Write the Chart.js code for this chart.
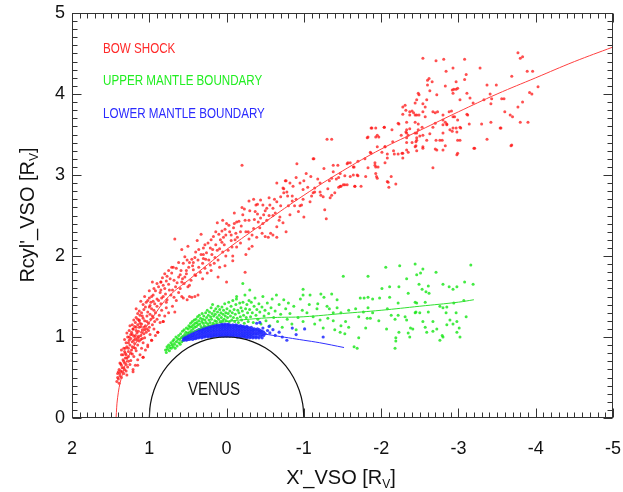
<!DOCTYPE html>
<html><head><meta charset="utf-8">
<script src="https://cdn.jsdelivr.net/npm/chart.js@4.4.1/dist/chart.umd.min.js"></script>
<style>html,body{margin:0;padding:0;background:#fff;overflow:hidden}</style>
</head><body>
<canvas id="c" width="623" height="492"></canvas>
<script>
// ---- tick labels / categories ----
const xTickValues = [2, 1, 0, -1, -2, -3, -4, -5];
const yTickValues = [0, 1, 2, 3, 4, 5];
const seriesNames = ['BOW SHOCK', 'UPPER MANTLE BOUNDARY', 'LOWER MANTLE BOUNDARY'];
const planetName = 'VENUS';

// ---- bow shock crossings [X', Rcyl'] ----
const bowShock = [
[1.42,0.45],[1.40,0.48],[1.38,0.52],[1.41,0.55],[1.36,0.5],[1.33,0.55],[1.39,0.6],[1.35,0.62],[1.30,0.58],[1.28,0.63],
[1.37,0.67],[1.32,0.68],[1.25,0.66],[1.21,0.6],[1.18,0.65],[1.34,0.72],[1.29,0.74],[1.24,0.71],[1.20,0.76],[1.15,0.72],
[1.36,0.78],[1.31,0.8],[1.27,0.82],[1.22,0.79],[1.17,0.83],[1.12,0.78],[1.08,0.75],[1.33,0.86],[1.29,0.88],[1.25,0.9],
[1.20,0.87],[1.15,0.9],[1.10,0.86],[1.05,0.84],[1.30,0.93],[1.26,0.96],[1.22,0.94],[1.18,0.98],[1.13,0.95],[1.08,0.93],
[1.02,0.9],[1.28,1.0],[1.24,1.03],[1.20,1.01],[1.16,1.05],[1.11,1.02],[1.06,0.99],[0.97,0.96],[1.26,1.08],[1.21,1.1],
[1.17,1.08],[1.13,1.12],[1.09,1.09],[1.04,1.06],[0.99,1.03],[0.92,1.02],[1.22,1.15],[1.18,1.18],[1.13,1.2],[1.10,1.16],
[1.05,1.14],[1.00,1.12],[0.94,1.1],[0.89,1.06],[1.17,1.24],[1.12,1.27],[1.08,1.23],[1.03,1.26],[0.98,1.22],[0.93,1.19],
[0.86,1.18],[0.82,1.19],[1.13,1.32],[1.07,1.34],[1.02,1.31],[0.97,1.35],[0.92,1.3],[0.87,1.27],[0.80,1.26],[0.75,1.3],
[1.08,1.4],[1.04,1.43],[0.99,1.39],[0.95,1.44],[0.90,1.38],[0.85,1.41],[0.78,1.36],[0.70,1.38],[1.00,1.48],[0.95,1.52],
[0.90,1.47],[0.86,1.55],[0.82,1.5],[0.77,1.46],[0.72,1.52],[0.65,1.45],[0.58,1.5],[0.56,1.48],[0.51,1.46],[0.48,1.5],
[0.45,1.49],[0.41,1.5],[0.37,1.52],[0.94,1.6],[0.88,1.62],[0.85,1.68],[0.80,1.6],[0.75,1.65],[0.70,1.58],[0.66,1.62],
[0.60,1.6],[0.55,1.66],[0.50,1.62],[0.83,1.73],[0.77,1.75],[0.71,1.79],[0.68,1.7],[0.62,1.74],[0.57,1.72],[0.52,1.78],
[0.46,1.7],[0.40,1.76],[1.21,1.1],[1.26,1.0],[1.31,0.86],[1.34,0.78],[1.38,0.68],[1.40,0.57],[1.13,1.21],[1.09,1.26],
[0.98,1.43],[1.0,1.37],[0.85,1.68],[0.85,1.58],[0.71,1.86],[0.67,1.31],[0.82,1.19],[0.89,1.06],[0.97,0.96],[1.02,0.88],
[1.08,0.75],[1.15,0.65],[1.21,0.57],[1.29,0.53],
[1.39,0.43],[1.37,0.58],[1.33,0.62],[1.27,0.7],[1.31,0.74],[1.23,0.84],[1.19,0.92],[1.27,0.93],[1.16,0.96],[1.09,0.98],
[1.23,1.06],[1.14,1.01],[1.07,1.04],[1.01,1.08],[1.19,1.13],[1.15,1.15],[1.07,1.12],[0.96,1.15],[1.12,1.17],[1.03,1.19],
[0.95,1.24],[0.90,1.22],[1.15,1.29],[1.10,1.3],[1.05,1.37],[0.99,1.28],[0.94,1.33],[0.84,1.33],[0.78,1.43],[0.88,1.45],
[0.93,1.41],[1.02,1.45],[0.97,1.5],[0.92,1.57],[0.84,1.48],[0.79,1.53],[0.74,1.58],[0.68,1.49],[0.62,1.55],[0.9,1.66],
[0.82,1.64],[0.78,1.69],[0.73,1.72],[0.64,1.67],[0.59,1.82],[0.65,1.85],[0.75,1.82],[0.8,1.78],[0.48,1.92],[0.44,1.88],
[0.36,1.86],[0.3,1.97],[0.26,2.04],[0.21,2.1],[0.14,2.14],[0.08,2.2],[0.17,2.24],[0.02,2.33],[-0.03,2.38],[-0.09,2.35],
[-0.19,2.37],[-0.23,2.58],[-0.37,2.55],[-0.44,2.69],[-0.55,2.72],[-0.7,2.62],[-0.85,2.74],[-0.9,2.97],[-1.0,2.93],[-1.18,2.95],
[-1.26,3.08],[-1.31,2.83],[-1.4,2.78],[-0.33,2.12],[-0.39,2.23],[0.02,1.88],[0.2,1.82],[1.36,0.84],[1.32,0.97],[1.29,1.05],
[1.25,1.14],[1.20,1.21],[1.17,1.35],[1.11,1.44],[1.06,1.5],[1.0,1.57],[0.96,1.68],[0.31,1.72],[0.58,2.08],[0.5,2.12],
[0.33,2.27],[0.28,2.14],
[1.41,0.5],[1.38,0.55],[1.35,0.57],[1.32,0.6],[1.36,0.65],[1.3,0.66],[1.33,0.7],[1.27,0.76],[1.3,0.78],[1.24,0.8],
[1.32,0.82],[1.27,0.86],[1.22,0.88],[1.18,0.86],[1.24,0.98],[1.2,0.96],[1.15,0.99],[1.11,0.97],[1.18,1.02],[1.22,1.03],
[1.14,1.07],[1.1,1.06],[1.06,1.09],[1.17,1.12],[1.11,1.13],[1.03,1.1],[1.15,1.22],[1.06,1.2],[1.01,1.17],[0.96,1.26],
[0.45,1.96],[0.36,2.08],[0.3,2.1],[0.24,2.16],[0.2,2.2],[0.1,2.27],[0.04,2.23],[0.0,2.4],[-0.04,2.3],[-0.1,2.4],
[-0.11,2.2],[-0.18,2.3],[-0.2,2.6],[-0.33,2.26],[-0.36,2.45],[-0.38,2.63],[-0.47,2.4],[-0.5,2.24],[-0.5,2.56],[-0.6,2.26],
[-0.6,2.5],[-0.69,2.48],[-0.7,2.73],[-0.8,2.62],[-0.82,2.9],[-0.9,2.7],[-0.95,2.62],[0.3,2.02],[0.43,1.92],[0.52,1.82],
[0.62,1.92],[0.58,1.68],[0.48,1.64],[0.14,2.3],[0.05,2.44],[-0.25,2.3],[-0.4,2.52],[-0.55,2.5],[-0.62,2.7],
[-0.2,3.12],[0.67,2.21],[0.69,1.86],[-0.65,2.9],[-0.76,2.93],[-0.74,2.83],[-0.78,2.79],[-0.29,2.68],[-0.35,2.7],[-0.4,2.64],
[-0.47,2.63],[-0.56,2.63],[-0.65,2.67],[-0.6,2.59],[-0.52,2.59],[-0.63,2.53],[-0.3,2.56],[-0.21,2.51],[-0.1,2.53],[-0.48,2.51],
[-0.52,2.44],[-0.68,2.44],[-0.73,2.41],[-0.82,2.51],[-0.77,2.3],[-0.65,2.36],[-0.57,2.28],[-0.65,2.23],[-0.54,2.23],[-0.46,2.28],
[-0.43,2.35],[-0.41,2.42],[-0.29,2.44],[-0.24,2.44],[-0.16,2.43],[-0.13,2.42],[-0.28,2.3],[-0.29,2.21],[-0.12,2.28],[-0.06,2.26],
[-0.14,2.23],[0.12,2.41],[0.06,2.31],[0.01,2.26],[-0.06,2.19],[-0.07,2.11],[-0.13,2.11],[0.06,2.17],[0.03,2.14],[-0.02,2.07],
[-0.08,2.0],[0.01,2.0],[0.09,2.09],[0.12,2.07],[0.19,2.02],[0.15,1.98],[0.23,1.95],[0.31,1.91],[0.28,1.85],[0.21,1.89],
[0.16,1.91],[0.09,1.86],[0.11,1.95],[0.37,1.95],[0.4,2.05],[0.38,2.19],[0.41,1.98],[0.43,1.83],[0.34,1.8],[0.25,1.79],
[0.49,1.86],[0.54,1.99],[0.51,1.95],[0.56,1.91],[0.6,1.77],[0.54,1.74],[0.41,1.77],[0.11,1.74],[-0.08,1.94],[-0.24,1.8],
[-0.29,2.09],[-0.25,2.02],[0.0,1.68],[0.33,2.02],[0.27,1.96],[0.18,2.08],[0.05,2.05],[-0.18,2.16],[-0.35,2.34],[-0.44,2.47],
[-0.91,3.14],[-1.12,3.2],[-1.3,3.44],[-1.36,3.44],[-1.03,3.02],[-1.09,2.98],[-0.77,2.93],[-0.73,2.84],[-0.74,2.78],[-0.79,2.74],
[-0.86,2.86],[-0.95,2.9],[-0.99,2.82],[-1.05,2.85],[-1.14,2.84],[-1.21,2.79],[-1.1,2.74],[-1.25,2.73],[-1.36,2.75],[-1.34,2.72],
[-1.38,3.04],[-1.36,2.96],[-1.47,3.02],[-1.45,2.97],[-1.53,2.99],[-1.6,3.15],[-1.56,3.14],[-1.64,3.0],[-1.7,2.99],[-1.48,2.86],
[-1.56,2.88],[-1.66,2.86],[-1.74,2.86],[-1.8,2.98],[-1.94,2.98],[-1.96,3.1],[-1.92,3.12],[-1.86,3.28],[-1.95,3.35],[-1.93,3.47],
[-1.95,3.49],[-2.05,3.35],[-1.88,3.58],[-2.04,3.59],[-1.82,3.46],[-2.01,3.28],[-2.08,3.21],[-2.05,3.15],[-2.13,2.98],[-2.08,2.92],
[-2.16,3.3],[-2.22,3.26],[-2.27,3.27],[-2.28,3.21],[-2.33,3.31],[-2.33,3.4],[-2.45,3.36],[-2.54,3.35],[-2.35,3.49],[-2.46,3.46],
[-2.54,3.49],[-2.33,3.56],[-2.22,3.64],[-2.33,3.65],[-2.37,3.74],[-2.42,3.77],[-2.46,3.74],[-2.54,3.78],[-2.28,3.84],[-2.44,3.89],
[-2.54,3.88],[-2.49,3.99],[-2.59,3.93],[-2.6,4.11],[-2.62,4.19],[-1.08,2.67],[-0.99,2.7],[-1.14,2.79],[-1.44,3.12],[-1.65,3.1],
[-1.53,2.88],[-1.45,2.85],[-1.27,2.57],[-1.29,2.46],[-1.21,2.9],[-1.13,3.2],[-1.22,2.75],[-1.12,2.78],[-0.97,2.63],[-1.42,2.95],
[-1.47,2.86],[-1.38,3.12],[-1.57,3.15],[-0.88,2.62],[-0.93,2.55],[-1.0,2.48],[-0.85,2.68],
[-2.54,4.44],[-2.71,4.41],[-2.81,4.43],[-3.08,4.43],[-2.84,4.28],[-2.93,4.32],[-3.28,4.32],[-2.6,4.17],[-2.66,4.15],[-2.83,4.1],
[-2.94,4.06],[-3.1,4.24],[-3.08,4.18],[-3.37,4.11],[-3.49,4.11],[-3.69,4.22],[-3.41,4.0],[-3.43,3.94],[-3.33,3.93],[-3.19,3.89],
[-3.59,3.94],[-3.42,3.88],[-3.6,3.78],[-3.67,3.74],[-3.42,3.65],[-3.3,3.63],[-3.55,3.58],[-3.77,3.84],[-3.8,3.65],[-3.37,3.44],
[-3.2,3.33],[-3.77,4.51],[-3.83,4.46],[-3.8,4.44],[-3.96,4.28],[-3.92,4.02],[-3.9,3.65],[-3.68,3.36],[-4.03,4.09],[-3.89,4.28],
[-3.95,4.0],[-3.83,3.9],[-3.56,3.94],[-3.15,3.95],[-3.11,4.01],[-3.02,3.93],[-2.97,4.06],[-2.92,4.05],[-2.93,4.01],[-2.99,4.07],
[-2.97,4.15],[-2.63,4.04],[-2.72,3.99],[-2.46,3.93],[-2.48,4.01],[-2.31,3.86],[-2.28,3.75],[-2.4,3.79],[-2.44,3.74],[-2.48,3.63],
[-2.48,3.56],[-2.57,3.72],[-2.67,3.78],[-2.73,3.78],[-2.8,3.68],[-2.88,3.78],[-2.85,3.62],[-2.93,3.72],[-2.99,3.68],[-3.02,3.59],
[-2.97,3.58],[-2.89,3.56],[-2.83,3.65],[-2.7,3.64],[-2.67,3.59],[-2.8,3.52],[-2.63,3.51],[-2.76,3.43],[-2.59,3.43],[-2.5,3.48],
[-2.46,3.43],[-2.33,3.52],[-2.44,3.35],[-2.28,3.27],[-2.54,3.33],[-2.72,3.31],[-2.83,3.36],[-2.99,3.43],[-2.99,3.27],[-3.21,3.33],
[-3.54,3.58],[-3.7,3.72],[-3.69,3.37],[-2.67,3.09],[-2.98,3.25],[-3.14,3.63],[-3.12,3.74],[-3.03,3.58],[-3.11,3.75],[-2.95,3.72],
[-2.91,3.79],[-2.7,3.77],[-2.8,3.74],[-2.85,3.63],[-2.8,3.62],[-2.93,3.58],[-2.98,3.53],[-2.92,3.54],[-2.79,3.43],[-2.8,3.31],
[-2.7,3.32],[-3.02,3.43],[-2.57,3.84],[-2.49,3.74],[-2.44,3.65],[-2.37,3.78],[-2.32,3.8],[-2.37,3.57],[-2.44,3.52],[-2.32,3.53],
[-2.4,3.4],[-2.46,3.3],[-2.23,3.63],[-2.26,3.49],[-2.14,3.56],[-2.04,3.59],[-2.15,3.41],[-2.05,3.35],[-2.08,3.26],[-2.17,3.26],
[-1.97,3.47],[-1.87,3.58],[-1.83,3.47],[-1.87,3.27],[-1.92,3.15],[-1.93,3.1],[-1.95,2.96],[-1.83,3.09],[-1.79,3.2],[-1.7,3.17],
[-1.69,3.0],[-1.66,2.86],[-1.64,3.1],[-1.6,2.98],[-1.51,2.88],[-1.33,2.93],[-2.09,2.91],[-2.1,2.85],[-2.19,2.89],[-1.93,3.02],
[-2.33,3.46],[-2.45,3.41],[-2.71,3.43],[-2.46,3.52],[-2.53,3.59],[-2.35,3.28],[-1.93,3.58]
];

// ---- upper mantle boundary crossings ----
const upperMantle = [
[0.79,0.84],[0.78,0.81],[0.77,0.88],[0.765,0.85],[0.75,0.9],[0.74,0.83],[0.735,0.87],[0.72,0.93],[0.715,0.86],[0.705,0.9],
[0.695,0.95],[0.69,0.88],[0.68,0.97],[0.672,0.91],[0.665,0.86],[0.655,1.0],[0.648,0.94],[0.64,0.89],[0.633,0.98],[0.62,1.02],
[0.615,0.93],[0.607,0.97],[0.6,0.91],[0.595,1.04],[0.588,0.99],[0.58,0.94],[0.571,1.07],[0.566,1.01],[0.558,0.96],[0.55,1.09],
[0.542,1.03],[0.535,0.98],[0.527,1.06],[0.52,1.11],[0.511,1.0],[0.505,1.05],[0.497,1.1],[0.489,1.14],[0.48,1.06],[0.472,1.12],
[0.466,1.17],[0.458,1.08],[0.45,1.13],[0.443,1.19],[0.434,1.1],[0.428,1.15],[0.419,1.21],[0.412,1.12],[0.405,1.17],[0.397,1.22],
[0.39,1.13],[0.384,1.18],[0.376,1.25],[0.368,1.15],[0.36,1.2],[0.353,1.27],[0.345,1.16],[0.337,1.23],[0.33,1.13],[0.322,1.19],
[0.316,1.29],[0.308,1.22],[0.302,1.17],[0.295,1.26],[0.287,1.14],[0.279,1.21],[0.271,1.3],[0.266,1.18],[0.258,1.24],[0.25,1.33],
[0.243,1.16],[0.236,1.27],[0.228,1.21],[0.221,1.31],[0.213,1.18],[0.206,1.25],[0.2,1.36],[0.195,1.22],[0.188,1.29],[0.181,1.4],
[0.174,1.17],[0.167,1.26],[0.16,1.32],[0.152,1.2],[0.146,1.28],[0.139,1.35],[0.131,1.19],[0.124,1.24],[0.117,1.31],[0.11,1.38],
[0.103,1.22],[0.096,1.27],[0.089,1.34],[0.082,1.19],[0.074,1.3],[0.067,1.24],[0.06,1.37],[0.052,1.2],[0.046,1.28],[0.039,1.33],
[0.031,1.22],[0.024,1.41],[0.017,1.26],[0.01,1.3],[0.003,1.2],[-0.005,1.35],[-0.013,1.24],[-0.02,1.29],[-0.028,1.43],[-0.036,1.19],
[-0.043,1.32],[-0.05,1.26],[-0.058,1.38],[-0.066,1.21],[-0.074,1.3],[-0.081,1.45],[-0.089,1.24],[-0.097,1.34],[-0.105,1.19],[-0.113,1.28],
[-0.12,1.4],[-0.128,1.47],[-0.137,1.23],[-0.145,1.33],[-0.153,1.18],[-0.16,1.3],[-0.17,1.42],[-0.178,1.25],[-0.186,1.36],[-0.195,1.21],
[-0.204,1.32],[-0.212,1.43],[-0.22,1.27],[-0.229,1.17],[-0.238,1.52],[-0.246,1.35],[-0.255,1.24],[-0.263,1.4],[-0.272,1.3],[-0.28,1.19],
[-0.29,1.45],[-0.298,1.34],[-0.31,1.25],[-0.32,1.43],[-0.333,1.3],[-0.345,1.18],[-0.356,1.38],[-0.368,1.48],[-0.38,1.27],[-0.392,1.34],
[-0.405,1.22],[-0.418,1.41],[-0.43,1.31],[-0.445,1.16],[-0.458,1.37],[-0.47,1.5],[-0.485,1.26],[-0.497,1.33],[-0.51,1.2],[-0.527,1.42],
[-0.545,1.29],[-0.56,1.14],[-0.575,1.36],[-0.59,1.47],[-0.61,1.24],[-0.628,1.32],[-0.645,1.52],[-0.66,1.19],[-0.68,1.4],[-0.7,1.28],
[-0.72,1.12],[-0.74,1.46],[-0.765,1.35],[-0.785,1.22],[-0.8,1.42],[-0.82,1.29],[-0.845,1.16],[-0.87,1.38],[-0.9,1.09],[-0.925,1.24],
[-0.955,1.47],[-0.98,1.33],[-0.99,1.52],[-0.21,1.66],[-0.3,1.58],[-0.13,1.5],
[-2.06,1.86],[-2.24,1.88],[-2.44,1.9],[-3.16,1.89],[-1.51,1.75],[-1.83,1.75],[-2.54,1.84],[-2.51,1.79],[-2.46,1.77],[-2.71,1.8],
[-2.33,1.72],[-2.49,1.65],[-2.23,1.62],[-2.11,1.62],[-2.01,1.6],[-2.53,1.59],[-2.58,1.56],[-2.8,1.65],[-2.88,1.62],[-2.98,1.62],
[-3.08,1.68],[-3.19,1.65],[-2.93,1.59],[-2.35,1.54],[-2.62,1.54],[-2.61,1.63],[-0.99,1.59],[-1.08,1.52],[-1.22,1.53],[-1.26,1.49],
[-1.36,1.53],[-1.43,1.46],[-1.43,1.36],[-1.07,1.4],[-1.18,1.41],[-1.3,1.38],[-1.33,1.35],[-1.38,1.3],[-1.48,1.3],[-1.54,1.19],
[-1.58,1.33],[-1.67,1.35],[-1.73,1.48],[-1.78,1.48],[-1.83,1.49],[-1.89,1.47],[-1.98,1.48],[-1.83,1.36],[-1.77,1.31],[-1.71,1.25],
[-1.82,1.23],[-1.86,1.23],[-1.89,1.3],[-1.8,1.11],[-1.71,0.99],[-1.58,1.12],[-1.48,1.14],[-1.47,1.06],[-1.53,1.04],[-1.4,1.09],
[-1.38,1.2],[-1.97,1.2],[-2.08,1.35],[-2.13,1.27],[-2.18,1.22],[-2.07,1.1],[-2.23,1.06],[-2.19,0.99],[-2.22,1.27],[-2.31,1.25],
[-2.33,1.21],[-2.38,1.11],[-2.35,1.05],[-2.41,1.1],[-2.44,1.3],[-2.45,1.31],[-2.5,1.3],[-2.54,1.19],[-2.61,1.31],[-2.57,1.12],
[-2.59,1.06],[-2.67,1.07],[-2.72,1.1],[-2.67,1.19],[-2.8,1.36],[-2.84,1.3],[-2.89,1.21],[-2.93,1.16],[-2.98,1.19],[-2.98,1.06],
[-2.85,1.15],[-2.97,1.3],[-3.02,1.0],[-2.8,1.0],[-3.1,1.25],[-2.94,1.42],[-2.76,1.38],[-2.11,1.49],[-2.22,1.42],[-2.44,1.43],
[-2.46,1.42],[-2.57,1.43],[-2.85,1.37],[-1.17,1.35],[-1.12,1.25],[-1.04,1.3],[-1.14,1.16],[-1.21,1.21],[-1.25,1.11],[-1.31,1.23],
[-0.99,1.19],[-1.65,0.88],[-1.69,0.86],[-2.18,0.86],[-2.19,0.95],[-2.76,0.96],[-2.79,1.02],[-2.37,1.0],[-3.01,1.11],[-3.07,1.45]
];

// ---- lower mantle boundary crossings ----
const lowerMantle = [
[0.56,0.96],[0.56,0.99],[0.54,0.97],[0.54,0.99],[0.545,1.0],[0.52,0.96],[0.52,0.98],[0.52,1.01],[0.50,0.97],[0.50,0.99],
[0.50,1.02],[0.48,0.97],[0.48,1.0],[0.48,1.03],[0.46,0.98],[0.46,1.01],[0.46,1.04],[0.44,0.97],[0.44,1.0],[0.44,1.02],
[0.44,1.05],[0.42,0.98],[0.42,1.01],[0.42,1.04],[0.42,1.06],[0.40,0.98],[0.40,1.0],[0.40,1.03],[0.40,1.07],[0.38,0.99],
[0.38,1.02],[0.38,1.05],[0.38,1.08],[0.36,0.99],[0.36,1.01],[0.36,1.04],[0.36,1.07],[0.36,1.09],[0.34,1.0],[0.34,1.03],
[0.34,1.06],[0.34,1.09],[0.32,0.99],[0.32,1.02],[0.32,1.05],[0.32,1.08],[0.32,1.1],[0.30,1.0],[0.30,1.03],[0.30,1.06],
[0.30,1.09],[0.30,1.11],[0.28,1.0],[0.28,1.02],[0.28,1.05],[0.28,1.08],[0.28,1.11],[0.26,1.01],[0.26,1.04],[0.26,1.07],
[0.26,1.1],[0.26,1.12],[0.24,1.0],[0.24,1.03],[0.24,1.06],[0.24,1.09],[0.24,1.12],[0.22,1.01],[0.22,1.04],[0.22,1.07],
[0.22,1.1],[0.22,1.13],[0.20,1.0],[0.20,1.02],[0.20,1.05],[0.20,1.08],[0.20,1.11],[0.20,1.13],[0.18,1.01],[0.18,1.04],
[0.18,1.07],[0.18,1.1],[0.18,1.13],[0.16,1.01],[0.16,1.03],[0.16,1.06],[0.16,1.09],[0.16,1.12],[0.16,1.14],[0.14,1.02],
[0.14,1.05],[0.14,1.08],[0.14,1.11],[0.14,1.14],[0.12,1.01],[0.12,1.04],[0.12,1.07],[0.12,1.1],[0.12,1.13],[0.12,1.15],
[0.10,1.02],[0.10,1.05],[0.10,1.08],[0.10,1.11],[0.10,1.14],[0.08,1.01],[0.08,1.03],[0.08,1.06],[0.08,1.09],[0.08,1.12],
[0.08,1.15],[0.06,1.02],[0.06,1.05],[0.06,1.08],[0.06,1.11],[0.06,1.14],[0.06,1.16],[0.04,1.01],[0.04,1.04],[0.04,1.07],
[0.04,1.1],[0.04,1.13],[0.04,1.15],[0.02,1.02],[0.02,1.05],[0.02,1.08],[0.02,1.11],[0.02,1.14],[0.02,1.16],[0.0,1.01],
[0.0,1.03],[0.0,1.06],[0.0,1.09],[0.0,1.12],[0.0,1.15],[-0.02,1.02],[-0.02,1.05],[-0.02,1.08],[-0.02,1.11],[-0.02,1.14],
[-0.02,1.16],[-0.04,1.01],[-0.04,1.04],[-0.04,1.07],[-0.04,1.1],[-0.04,1.13],[-0.04,1.15],[-0.06,1.02],[-0.06,1.05],[-0.06,1.08],
[-0.06,1.11],[-0.06,1.14],[-0.08,1.01],[-0.08,1.03],[-0.08,1.06],[-0.08,1.09],[-0.08,1.12],[-0.08,1.15],[-0.10,1.02],[-0.10,1.05],
[-0.10,1.08],[-0.10,1.11],[-0.10,1.14],[-0.12,1.01],[-0.12,1.04],[-0.12,1.07],[-0.12,1.1],[-0.12,1.13],[-0.12,1.15],[-0.14,1.0],
[-0.14,1.03],[-0.14,1.06],[-0.14,1.09],[-0.14,1.12],[-0.14,1.14],[-0.16,1.01],[-0.16,1.04],[-0.16,1.07],[-0.16,1.1],[-0.16,1.13],
[-0.18,1.0],[-0.18,1.03],[-0.18,1.06],[-0.18,1.09],[-0.18,1.12],[-0.18,1.14],[-0.20,1.01],[-0.20,1.04],[-0.20,1.07],[-0.20,1.1],
[-0.20,1.13],[-0.22,1.0],[-0.22,1.02],[-0.22,1.05],[-0.22,1.08],[-0.22,1.11],[-0.22,1.13],[-0.24,1.0],[-0.24,1.03],[-0.24,1.06],
[-0.24,1.09],[-0.24,1.12],[-0.26,0.99],[-0.26,1.02],[-0.26,1.05],[-0.26,1.08],[-0.26,1.11],[-0.26,1.13],[-0.28,1.0],[-0.28,1.03],
[-0.28,1.06],[-0.28,1.09],[-0.28,1.12],[-0.30,0.99],[-0.30,1.02],[-0.30,1.05],[-0.30,1.08],[-0.30,1.11],[-0.32,1.0],[-0.32,1.03],
[-0.32,1.06],[-0.32,1.09],[-0.32,1.12],[-0.34,0.99],[-0.34,1.02],[-0.34,1.05],[-0.34,1.08],[-0.34,1.1],[-0.36,1.0],[-0.36,1.04],
[-0.36,1.07],[-0.36,1.1],[-0.38,0.99],[-0.38,1.02],[-0.38,1.05],[-0.38,1.09],[-0.40,1.0],[-0.40,1.04],[-0.40,1.07],[-0.40,1.1],
[-0.42,0.99],[-0.42,1.03],[-0.42,1.06],[-0.42,1.09],[-0.44,1.01],[-0.44,1.05],[-0.44,1.08],[-0.46,0.99],[-0.46,1.03],[-0.46,1.07],
[-0.48,1.02],[-0.48,1.06],[-0.47,1.11],[-0.5,1.04],[-0.53,1.08],[-0.56,1.05],[-0.6,1.09],[-0.63,1.02],[-0.68,1.06],[-0.72,1.0],
[-0.78,0.96],[-0.85,1.11],[-0.9,1.03],[-1.01,1.1],[-1.25,1.0],[-0.39,1.17],[-0.43,1.18],[-0.55,1.13]
];

// ---- fitted boundary curves ----
const bowFit = [[1.43,0.0],[1.41,0.25],[1.36,0.5],[1.25,0.8],[1.12,1.0],[0.95,1.25],[0.75,1.5],[0.47,1.72],[0.25,1.89],
[0.0,2.08],[-0.5,2.42],[-1.0,2.75],[-1.5,3.05],[-2.0,3.32],[-2.5,3.55],[-3.0,3.78],[-3.5,4.0],[-4.0,4.2],[-4.5,4.4],[-5.0,4.58]];
const umbFit = [[0.75,0.88],[0.6,0.98],[0.4,1.08],[0.2,1.15],[0.0,1.19],[-0.3,1.22],[-0.6,1.24],[-1.0,1.25],[-1.5,1.29],
[-2.0,1.33],[-2.5,1.38],[-3.0,1.43],[-3.2,1.46]];
const lmbFit = [[0.55,0.95],[0.4,1.0],[0.2,1.05],[0.0,1.07],[-0.2,1.07],[-0.4,1.05],[-0.6,1.02],[-0.8,0.99],[-1.0,0.96],
[-1.2,0.93],[-1.52,0.87]];
// ---- planet outline (unit circle, upper half) ----
const venusOutline = [[1,0],[0.985,0.174],[0.94,0.342],[0.866,0.5],[0.766,0.643],[0.643,0.766],[0.5,0.866],[0.342,0.94],
[0.174,0.985],[0,1],[-0.174,0.985],[-0.342,0.94],[-0.5,0.866],[-0.643,0.766],[-0.766,0.643],[-0.866,0.5],[-0.94,0.342],
[-0.985,0.174],[-1,0]];

const toXY = a => a.map(p => ({x: p[0], y: p[1]}));
const FONT = "'Liberation Sans', Arial, Helvetica, sans-serif";
Chart.defaults.font.family = FONT;

const framePlugin = {
  id: 'frame',
  afterDraw(chart) {
    const {ctx, chartArea: a, scales: {x, y}} = chart;
    ctx.save();
    ctx.strokeStyle = '#333'; ctx.lineWidth = 1;
    const L = Math.round(a.left) + 0.5, R = Math.round(a.right) - 0.5;
    const T = Math.round(a.top) + 0.5, B = Math.round(a.bottom) - 0.5;
    ctx.strokeRect(L, T, R - L, B - T);
    ctx.beginPath();
    for (let i = -50; i <= 20; i++) {
      const px = Math.round(x.getPixelForValue(i / 10)) + 0.5;
      const len = (i % 10 === 0) ? 9 : 5;
      ctx.moveTo(px, B); ctx.lineTo(px, B - len);
      ctx.moveTo(px, T); ctx.lineTo(px, T + len);
    }
    for (let i = 0; i <= 50; i++) {
      const py = Math.round(y.getPixelForValue(i / 10)) + 0.5;
      const len = (i % 10 === 0) ? 9 : 5;
      ctx.moveTo(L, py); ctx.lineTo(L + len, py);
      ctx.moveTo(R, py); ctx.lineTo(R - len, py);
    }
    ctx.stroke();

    ctx.fillStyle = '#111';
    function titleWithSub(main, sub, tail, size) {
      ctx.font = size + 'px ' + FONT;
      const w1 = ctx.measureText(main).width;
      ctx.font = Math.round(size * 0.6) + 'px ' + FONT;
      const w2 = ctx.measureText(sub).width;
      ctx.font = size + 'px ' + FONT;
      const w3 = ctx.measureText(tail).width;
      return {w: w1 + w2 + w3, draw(x0, y0) {
        ctx.font = size + 'px ' + FONT;
        ctx.fillText(main, x0, y0);
        ctx.font = Math.round(size * 0.6) + 'px ' + FONT;
        ctx.fillText(sub, x0 + w1, y0 + size * 0.22);
        ctx.font = size + 'px ' + FONT;
        ctx.fillText(tail, x0 + w1 + w2, y0);
      }};
    }
    ctx.textBaseline = 'alphabetic'; ctx.textAlign = 'left';
    const xt = titleWithSub("X'_VSO [R", 'V', ']', 20);
    xt.draw(341 - xt.w / 2, 484);
    ctx.save();
    ctx.translate(34, 215); ctx.rotate(-Math.PI / 2);
    const yt = titleWithSub("Rcyl'_VSO [R", 'V', ']', 20);
    yt.draw(-yt.w / 2, 0);
    ctx.restore();

    const labelColors = ['#ff2a2a', '#22ee22', '#2a2aff'];
    const labelY = [53, 85, 118];
    ctx.font = '14px ' + FONT;
    seriesNames.forEach((s, i) => {
      ctx.save();
      ctx.translate(103, labelY[i]); ctx.scale(0.83, 1);
      ctx.fillStyle = labelColors[i];
      ctx.fillText(s, 0, 0);
      ctx.restore();
    });
    ctx.save();
    ctx.font = '18px ' + FONT;
    ctx.fillStyle = '#111';
    ctx.translate(214, 395); ctx.scale(0.84, 1);
    ctx.textAlign = 'center';
    ctx.fillText(planetName, 0, 0);
    ctx.restore();
    ctx.restore();
  }
};

new Chart(document.getElementById('c'), {
  type: 'scatter',
  data: {
    datasets: [
      {label: 'bow fit', data: toXY(bowFit), showLine: true, pointRadius: 0, borderColor: '#ff4040', borderWidth: 1, tension: 0.4, order: 1},
      {label: 'umb fit', data: toXY(umbFit), showLine: true, pointRadius: 0, borderColor: '#30e030', borderWidth: 1, tension: 0.4, order: 1},
      {label: 'lmb fit', data: toXY(lmbFit), showLine: true, pointRadius: 0, borderColor: '#3030ff', borderWidth: 1, tension: 0.4, order: 1},
      {label: planetName, data: toXY(venusOutline), showLine: true, pointRadius: 0, borderColor: '#111', borderWidth: 1.2, tension: 0.4, order: 1},
      {label: seriesNames[2], data: toXY(lowerMantle), pointRadius: 1.6, backgroundColor: 'rgba(30,40,255,0.85)', borderWidth: 0, order: 3},
      {label: seriesNames[1], data: toXY(upperMantle), pointRadius: 1.5, backgroundColor: 'rgba(20,230,20,0.8)', borderWidth: 0, order: 4},
      {label: seriesNames[0], data: toXY(bowShock), pointRadius: 1.5, backgroundColor: 'rgba(255,20,20,0.75)', borderWidth: 0, order: 5}
    ]
  },
  options: {
    responsive: false, animation: false, devicePixelRatio: 1,
    layout: {padding: {top: 13, right: 10, left: 0, bottom: 0}},
    plugins: {legend: {display: false}, tooltip: {enabled: false}},
    scales: {
      x: {
        type: 'linear', reverse: true, min: -5, max: 2,
        afterFit: s => { s.height = 74; s.paddingLeft = 0; s.paddingRight = 0; s.paddingTop = 0; s.paddingBottom = 0; },
        afterBuildTicks: s => { s.ticks = xTickValues.map(v => ({value: v})); },
        ticks: {font: {size: 18}, color: '#111', padding: 20},
        grid: {display: false, drawTicks: false}, border: {display: false}
      },
      y: {
        type: 'linear', min: 0, max: 5,
        afterFit: s => { s.width = 72; s.paddingLeft = 0; s.paddingRight = 0; s.paddingTop = 0; s.paddingBottom = 0; },
        afterBuildTicks: s => { s.ticks = yTickValues.map(v => ({value: v})); },
        ticks: {font: {size: 18}, color: '#111', padding: 7},
        grid: {display: false, drawTicks: false}, border: {display: false}
      }
    }
  },
  plugins: [framePlugin]
});
</script>
</body></html>
